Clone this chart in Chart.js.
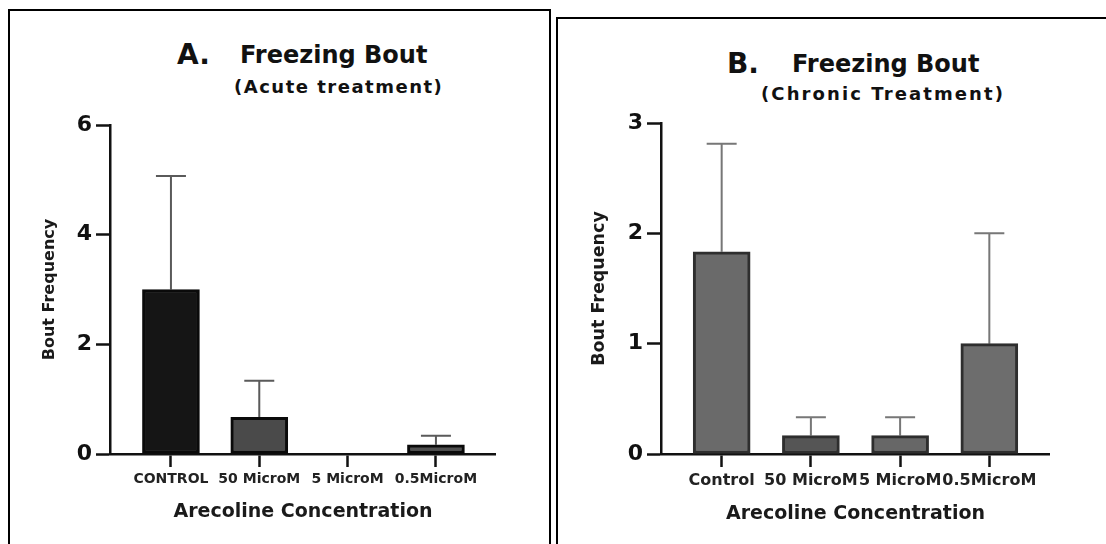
<!DOCTYPE html>
<html>
<head>
<meta charset="utf-8">
<title>Freezing Bout</title>
<script src="https://cdn.jsdelivr.net/npm/chart.js@4.4.1/dist/chart.umd.min.js"></script>
<style>
	html, body { margin: 0; padding: 0; background: #fff; overflow: hidden; }
	body { width: 1106px; height: 544px; position: relative; font-family: 'DejaVu Sans', sans-serif; font-weight: bold; color: #111; }
	.frame { position: absolute; box-sizing: border-box; border: 2px solid #000; }
	#frame-a { left: 8px; top: 9px; width: 543px; height: 560px; }
	#frame-b { left: 556px; top: 17px; width: 580px; height: 560px; }
	.txt { position: absolute; line-height: 1; white-space: nowrap; }
	canvas { position: absolute; }
</style>
</head>
<body>
<div class="frame" id="frame-a"></div>
<div class="frame" id="frame-b"></div>

<div class="txt" style="left:177px; top:41px; font-size:28px;">A.</div>
<div class="txt" style="left:240px; top:43px; font-size:24px;">Freezing Bout</div>
<div class="txt" style="left:234px; top:78px; font-size:18px; letter-spacing:1.5px;">(Acute treatment)</div>

<div class="txt" style="left:727px; top:50px; font-size:28px;">B.</div>
<div class="txt" style="left:792px; top:52px; font-size:24px;">Freezing Bout</div>
<div class="txt" style="left:761px; top:85px; font-size:18px; letter-spacing:2.1px;">(Chronic Treatment)</div>

<canvas id="chart-acute" width="486" height="444" style="left:10px; top:100px;"></canvas>
<canvas id="chart-chronic" width="492" height="444" style="left:558px; top:100px;"></canvas>

<script>
//
// Freezing bout charts
//

'use strict';

// Data

var acuteCategories = ['CONTROL', '50 MicroM', '5 MicroM', '0.5MicroM'];
var acuteMean = [3.0, 0.667, 0, 0.167];
var acuteSem = [2.07, 0.667, 0, 0.167];
var acuteTicks = [0, 2, 4, 6];

var chronicCategories = ['Control', '50 MicroM', '5 MicroM', '0.5MicroM'];
var chronicMean = [1.833, 0.167, 0.167, 1.0];
var chronicSem = [0.98, 0.167, 0.167, 1.0];
var chronicTicks = [0, 1, 2, 3];

var FONT = "'DejaVu Sans', sans-serif";

//
// Error bars (upper only), drawn behind the bars
//

var errorBars = {
	id: 'errorBars',
	beforeDatasetsDraw: function(chart, args, opts) {
		var ctx = chart.ctx;
		var x = chart.scales.x, y = chart.scales.y;
		ctx.save();
		ctx.strokeStyle = opts.color;
		ctx.lineWidth = 2;
		opts.mean.forEach(function(m, i) {
			if (!opts.sem[i]) return;
			var px = x.getPixelForValue(i);
			var base = y.getPixelForValue(m);
			var top = y.getPixelForValue(m + opts.sem[i]);
			ctx.beginPath();
			ctx.moveTo(px, base);
			ctx.lineTo(px, top);
			ctx.moveTo(px - 15, top);
			ctx.lineTo(px + 15, top);
			ctx.stroke();
		});
		ctx.restore();
	}
};

//
// Build one panel
//

function makeChart(el, cfg) {
	var tickValues = cfg.ticks;

	return new Chart(el, {
		type: 'bar',
		data: {
			datasets: [{
				data: cfg.mean.map(function(v, i) { return { x: i, y: v }; }),
				backgroundColor: cfg.fill,
				borderColor: cfg.border,
				borderWidth: 3,
				borderSkipped: false,
				barThickness: 57
			}]
		},
		options: {
			responsive: false,
			animation: false,
			devicePixelRatio: 1,
			layout: { padding: { top: cfg.padTop, left: 0, right: 0, bottom: 0 } },
			plugins: {
				legend: { display: false },
				tooltip: { enabled: false },
				errorBars: { mean: cfg.mean, sem: cfg.sem, color: cfg.errColor }
			},
			scales: {
				x: {
					type: 'linear',
					offset: false,
					min: cfg.xMin,
					max: 3.68,
					afterBuildTicks: function(scale) {
						scale.ticks = cfg.labels.map(function(c, i) { return { value: i }; });
					},
					afterFit: function(scale) { scale.height = 90; },
					border: { color: '#111', width: 2.5 },
					grid: { offset: false, drawOnChartArea: false, drawTicks: true, tickLength: 13, tickColor: '#111', tickWidth: 2.5 },
					ticks: {
						autoSkip: false,
						maxRotation: 0,
						padding: 4,
						color: '#222',
						font: { family: FONT, size: cfg.xFont, weight: 'bold' },
						callback: function(v) { return cfg.labels[v]; }
					},
					title: {
						display: true,
						text: 'Arecoline Concentration',
						color: '#1a1a1a',
						font: { family: FONT, size: 19, weight: 'bold', lineHeight: 1.2 },
						padding: { top: 0, bottom: cfg.xTitlePad }
					}
				},
				y: {
					min: tickValues[0],
					max: tickValues[tickValues.length - 1],
					afterBuildTicks: function(scale) {
						scale.ticks = tickValues.map(function(v) { return { value: v }; });
					},
					afterFit: function(scale) { scale.width = cfg.yWidth; },
					border: { color: '#111', width: 2.5 },
					grid: { drawOnChartArea: false, drawTicks: true, tickLength: 14, tickColor: '#111', tickWidth: 2.5 },
					ticks: {
						padding: 4,
						color: '#111',
						font: { family: FONT, size: 22, weight: 'bold' }
					},
					title: {
						display: true,
						text: 'Bout Frequency',
						color: '#1a1a1a',
						font: { family: FONT, size: cfg.yTitleFont, weight: 'bold', lineHeight: 1.2 },
						padding: { top: cfg.yTitlePad, bottom: 0 }
					}
				}
			}
		},
		plugins: [errorBars]
	});
}

// Events

makeChart(document.getElementById('chart-acute'), {
	labels: acuteCategories,
	mean: acuteMean,
	sem: acuteSem,
	ticks: acuteTicks,
	fill: ['#151515', '#4a4a4a', '#4a4a4a', '#505050'],
	border: '#0a0a0a',
	errColor: '#5a5a5a',
	padTop: 25,
	xMin: -0.69,
	yWidth: 100,
	xFont: 14,
	yTitleFont: 16,
	yTitlePad: 30,
	xTitlePad: 21
});

makeChart(document.getElementById('chart-chronic'), {
	labels: chronicCategories,
	mean: chronicMean,
	sem: chronicSem,
	ticks: chronicTicks,
	fill: ['#6a6a6a', '#555555', '#676767', '#6d6d6d'],
	border: '#2e2e2e',
	errColor: '#777777',
	padTop: 23,
	xMin: -0.68,
	yWidth: 103,
	xFont: 16,
	yTitleFont: 17.5,
	yTitlePad: 31,
	xTitlePad: 19
});
</script>
</body>
</html>
